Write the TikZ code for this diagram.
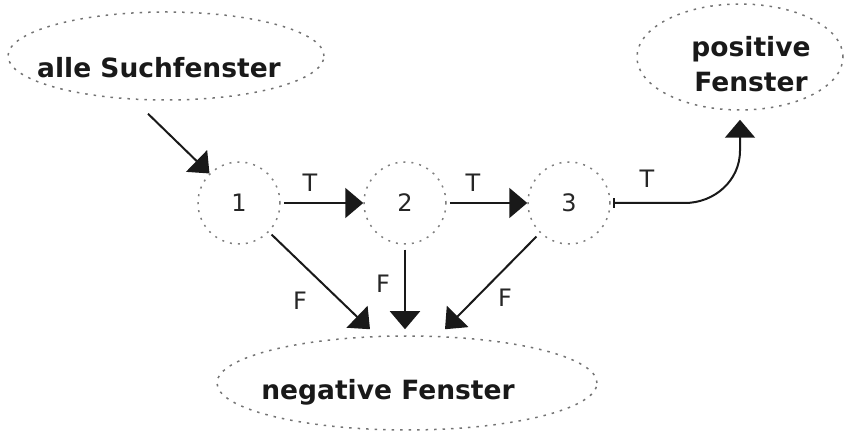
\documentclass[tikz,border=0pt]{standalone}
\usepackage{fontspec}
\setmainfont{DejaVu Sans}
\usetikzlibrary{shapes.geometric,arrows.meta}
\begin{document}
\begin{tikzpicture}[x=1pt,y=-1pt,
  ellbox/.style={ellipse,draw=black!55,line width=1.5pt,dash pattern=on 2.5pt off 6pt,inner sep=0pt},
  elltext/.style={font=\fontsize{26.5}{35}\selectfont\bfseries,align=center,inner sep=0pt,text=black!90},
  state/.style={circle,draw=black!50,line width=1.5pt,dash pattern=on 2pt off 6pt,minimum size=82pt,inner sep=0pt,font=\fontsize{24}{28}\selectfont,text=black!85},
  lab/.style={font=\fontsize{24}{28}\selectfont,inner sep=0pt,anchor=base,text=black!85},
  arr/.style={line width=2pt,draw=black!90,-{Triangle[length=18pt,width=30pt]}}]
\useasboundingbox (0,0) rectangle (847,435);
% ellipses
\node[ellbox,minimum width=316pt,minimum height=88pt] (all) at (166,56) {};
\node[elltext,anchor=base] (allt) at (159,78) {alle Suchfenster};
\node[ellbox,minimum width=206pt,minimum height=106pt] (pos) at (740,57) {};
\node[elltext,anchor=base] (post) at (751,92) {positive\\Fenster};
\node[ellbox,minimum width=380pt,minimum height=94pt] (neg) at (407,383) {};
\node[elltext,anchor=base] (negt) at (388,400) {negative Fenster};
% states
\node[state] (n1) at (239,203) {1};
\node[state] (n2) at (405,203) {2};
\node[state] (n3) at (569,203) {3};
% connectors
\draw[arr] ([xshift=-18pt,yshift=-13pt]all.south) -- (n1.north west);
\draw[arr] ([xshift=3pt]n1.east) -- (n2.west);
\draw[arr] ([xshift=3pt]n2.east) -- (n3.west);
\draw[line width=2pt,draw=black!90,{Bar[width=10pt]}-{Triangle[length=18pt,width=30pt]}]
  ([xshift=2pt]n3.east) -- ++(72,0) to[out=0,in=-90] ([yshift=-40pt]pos.south) -- ([yshift=-9pt]pos.south);
\draw[arr] ([xshift=3pt,yshift=-2pt]n1.south east) -- ([xshift=-37pt,yshift=6pt]neg.north);
\draw[arr] ([yshift=-5pt]n2.south) -- ([xshift=-2pt,yshift=6pt]neg.north);
\draw[arr] ([xshift=-3pt,yshift=-4pt]n3.south west) -- ([xshift=38pt,yshift=6pt]neg.north);
% labels
\node[lab] (t1) at (310,192) {T};
\node[lab] (t2) at (473,192) {T};
\node[lab] (t3) at (647,188) {T};
\node[lab] (f1) at (300,310) {F};
\node[lab] (f2) at (383,293) {F};
\node[lab] (f3) at (505,307) {F};
\end{tikzpicture}
\end{document}
